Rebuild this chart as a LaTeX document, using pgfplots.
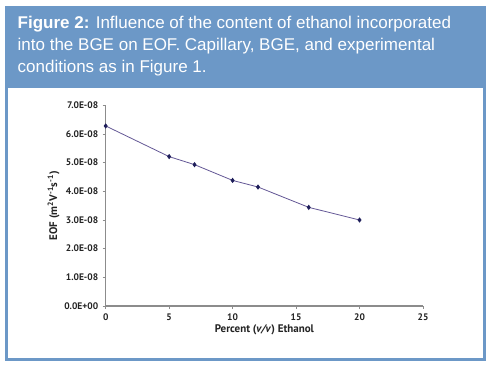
\documentclass[border=0pt]{standalone}
\usepackage{pgfplots}
\pgfplotsset{compat=1.18}
\usepackage{fontspec}
\setmainfont{Liberation Sans}
\newfontfamily\axfont{PT Sans}
\definecolor{frameblue}{RGB}{108,152,199}
\definecolor{linecol}{RGB}{100,88,150}
\definecolor{markcol}{RGB}{30,30,90}
\definecolor{axgray}{RGB}{140,140,140}
\definecolor{labcol}{RGB}{35,35,35}
\begin{document}
\begin{tikzpicture}
\useasboundingbox (0pt,0pt) rectangle (493pt,366pt);
\fill[white] (0pt,0pt) rectangle (493pt,366pt);
\fill[frameblue] (5pt,5pt) rectangle (486pt,360pt);
\fill[white] (8pt,8pt) rectangle (483pt,278pt);
\begin{scope}[every node/.style={anchor=base west, inner sep=0pt, text=white, font=\fontsize{17}{22}\selectfont}]
\node at (17.5pt,337pt) {\textbf{Figure 2:} Influence of the content of ethanol incorporated};
\node at (17.5pt,315pt) {into the BGE on EOF. Capillary, BGE, and experimental};
\node at (17.5pt,293pt) {conditions as in Figure 1.};
\end{scope}
\begin{axis}[
  at={(105.7pt,60pt)}, anchor=south west,
  scale only axis, width=317.3pt, height=200.7pt,
  xmin=0, xmax=25, ymin=0, ymax=7e-8,
  axis x line=bottom, axis y line=left,
  axis line style={draw=axgray, line width=1.1pt, -},
  tick style={draw=axgray, line width=0.8pt},
  tick align=outside, major tick length=3pt,
  scaled y ticks=false,
  xtick={0,5,10,15,20,25},
  ytick={0,1e-8,2e-8,3e-8,4e-8,5e-8,6e-8,7e-8},
  yticklabels={0.0E+00,1.0E-08,2.0E-08,3.0E-08,4.0E-08,5.0E-08,6.0E-08,7.0E-08},
  /pgf/number format/assume math mode=true,
  ticklabel style={font=\axfont\bfseries\fontsize{9.5}{11}\selectfont, text=labcol},
  xticklabel style={yshift=-1pt},
  yticklabel style={xshift=-1pt},
  xlabel={Percent (\textit{v/v}) Ethanol},
  ylabel={EOF (m\textsuperscript{2}V\textsuperscript{-1}s\textsuperscript{-1})},
  label style={font=\axfont\bfseries\fontsize{11}{13}\selectfont, text=labcol},
  xlabel style={yshift=3pt},
  ylabel style={yshift=-2pt},
  clip=false,
]
\addplot[color=linecol, line width=0.8pt, mark=diamond*, mark size=2pt, mark options={fill=markcol, draw=markcol}]
coordinates {
(0,6.28e-8)
(5,5.21e-8)
(7,4.93e-8)
(10,4.38e-8)
(12,4.15e-8)
(16,3.44e-8)
(20,3.00e-8)
};
\end{axis}
\end{tikzpicture}
\end{document}
